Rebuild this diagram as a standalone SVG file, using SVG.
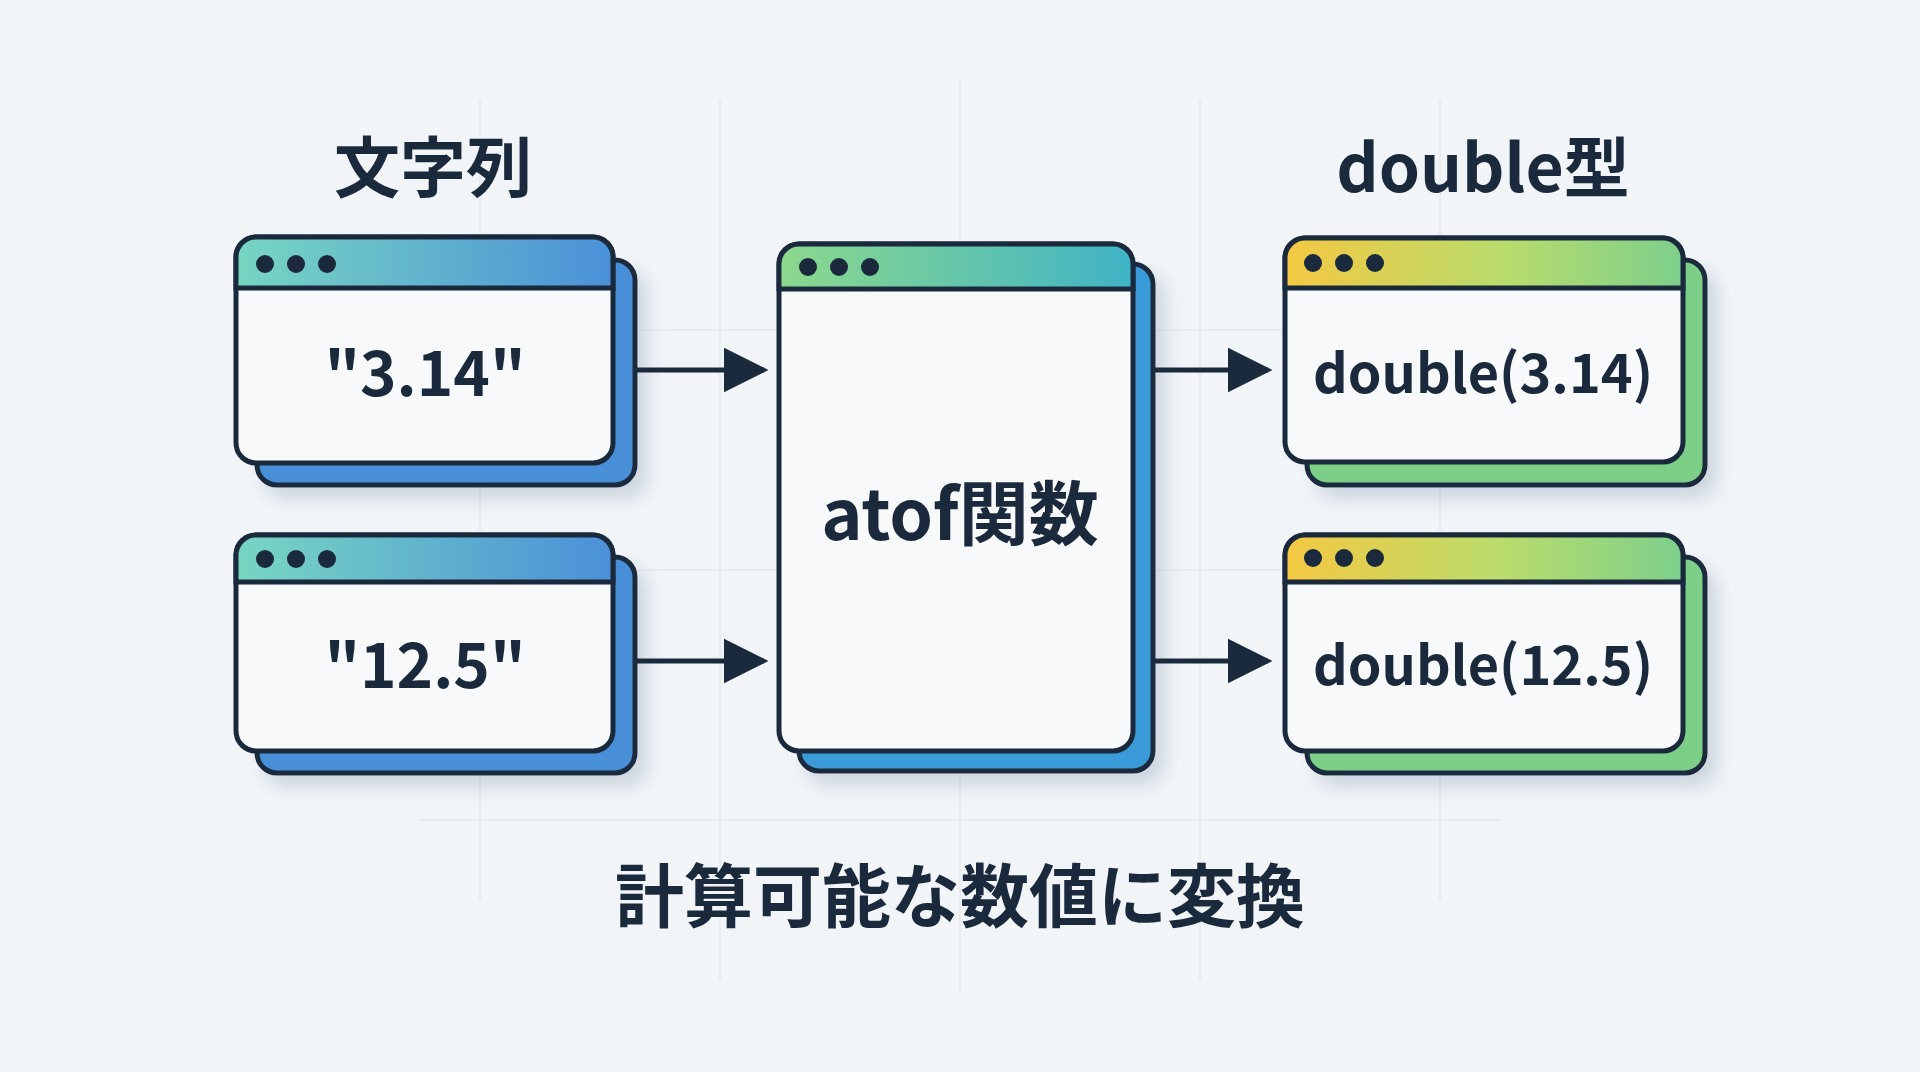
<svg xmlns="http://www.w3.org/2000/svg" width="1920" height="1072" viewBox="0 0 1920 1072">
<defs>
<linearGradient id="gBlue" x1="0" y1="0" x2="1" y2="0"><stop offset="0" stop-color="#78d6c2"/><stop offset="1" stop-color="#4a90d8"/></linearGradient>
<linearGradient id="gMid" x1="0" y1="0" x2="1" y2="0"><stop offset="0" stop-color="#8cd98c"/><stop offset="1" stop-color="#3fb3c6"/></linearGradient>
<linearGradient id="gGreen" x1="0" y1="0" x2="1" y2="0"><stop offset="0" stop-color="#f4c842"/><stop offset="0.55" stop-color="#b9dc6c"/><stop offset="1" stop-color="#7dcf8c"/></linearGradient>
<filter id="sh" x="-20%" y="-20%" width="150%" height="150%"><feDropShadow dx="10" dy="12" stdDeviation="9" flood-color="#8a9bb0" flood-opacity="0.35"/></filter>
<marker id="ah" viewBox="0 0 10 10" refX="9" refY="5" markerWidth="9" markerHeight="9" orient="auto" markerUnits="strokeWidth"><path d="M0,0 L10,5 L0,10 z" fill="#1a2a3c"/></marker>
</defs>
<style>
.ol{stroke:#1a2a3c;stroke-width:5;}
.body{fill:#f7f9fb;}
.dot{fill:#1a2a3c;}
.t{font-family:"Noto Sans CJK JP","Noto Sans",sans-serif;font-weight:700;fill:#1a2a3c;text-anchor:middle;}
.grid{stroke:#e0e6ec;stroke-width:1.5;}
.conn{stroke:#1a2a3c;stroke-width:5;fill:none;}
</style>
<rect width="1920" height="1072" fill="#f1f5f8"/>
<g id="grid" opacity="0.8">
<line class="grid" x1="480" y1="100" x2="480" y2="900"/>
<line class="grid" x1="720" y1="100" x2="720" y2="980"/>
<line class="grid" x1="960" y1="80" x2="960" y2="990"/>
<line class="grid" x1="1200" y1="100" x2="1200" y2="980"/>
<line class="grid" x1="1440" y1="100" x2="1440" y2="900"/>
<line class="grid" x1="420" y1="330" x2="1500" y2="330"/>
<line class="grid" x1="420" y1="570" x2="1500" y2="570"/>
<line class="grid" x1="420" y1="820" x2="1500" y2="820"/>
</g>
<text class="t" x="433" y="192" font-size="66">文字列</text>
<text class="t" x="1483" y="192" font-size="66">double型</text>
<g id="s1">
<rect class="ol" x="257" y="260" width="378" height="225" rx="20" fill="#4a8fd8" filter="url(#sh)"/>
<rect class="ol body" x="236" y="237" width="377" height="226" rx="20"/>
<path class="ol" d="M236,288 V257 a20,20 0 0 1 20,-20 H593 a20,20 0 0 1 20,20 V288 Z" fill="url(#gBlue)"/>
<circle class="dot" cx="265" cy="264" r="9"/><circle class="dot" cx="296" cy="264" r="9"/><circle class="dot" cx="327" cy="264" r="9"/>
<text class="t" x="425" y="396" font-size="62">"3.14"</text>
</g>
<g id="s2">
<rect class="ol" x="257" y="557" width="378" height="216" rx="20" fill="#4a8fd8" filter="url(#sh)"/>
<rect class="ol body" x="236" y="535" width="377" height="216" rx="20"/>
<path class="ol" d="M236,582 V555 a20,20 0 0 1 20,-20 H593 a20,20 0 0 1 20,20 V582 Z" fill="url(#gBlue)"/>
<circle class="dot" cx="265" cy="559" r="9"/><circle class="dot" cx="296" cy="559" r="9"/><circle class="dot" cx="327" cy="559" r="9"/>
<text class="t" x="425" y="688" font-size="62">"12.5"</text>
</g>
<g id="atof">
<rect class="ol" x="799" y="264" width="354" height="507" rx="20" fill="#3b9bd8" filter="url(#sh)"/>
<rect class="ol body" x="779" y="244" width="354" height="507" rx="20"/>
<path class="ol" d="M779,289 V264 a20,20 0 0 1 20,-20 H1113 a20,20 0 0 1 20,20 V289 Z" fill="url(#gMid)"/>
<circle class="dot" cx="808" cy="267" r="9"/><circle class="dot" cx="839" cy="267" r="9"/><circle class="dot" cx="870" cy="267" r="9"/>
<text class="t" x="960" y="540" font-size="70">atof関数</text>
</g>
<g id="d1">
<rect class="ol" x="1307" y="260" width="398" height="225" rx="20" fill="#7dcf88" filter="url(#sh)"/>
<rect class="ol body" x="1285" y="238" width="398" height="224" rx="20"/>
<path class="ol" d="M1285,288 V258 a20,20 0 0 1 20,-20 H1663 a20,20 0 0 1 20,20 V288 Z" fill="url(#gGreen)"/>
<circle class="dot" cx="1313" cy="263" r="9"/><circle class="dot" cx="1344" cy="263" r="9"/><circle class="dot" cx="1375" cy="263" r="9"/>
<text class="t" x="1483" y="393" font-size="54">double(3.14)</text>
</g>
<g id="d2">
<rect class="ol" x="1307" y="557" width="398" height="216" rx="20" fill="#7dcf88" filter="url(#sh)"/>
<rect class="ol body" x="1285" y="535" width="398" height="216" rx="20"/>
<path class="ol" d="M1285,582 V555 a20,20 0 0 1 20,-20 H1663 a20,20 0 0 1 20,20 V582 Z" fill="url(#gGreen)"/>
<circle class="dot" cx="1313" cy="558" r="9"/><circle class="dot" cx="1344" cy="558" r="9"/><circle class="dot" cx="1375" cy="558" r="9"/>
<text class="t" x="1483" y="685" font-size="54">double(12.5)</text>
</g>
<g id="connectors">
<line class="conn" x1="637" y1="370" x2="764" y2="370" marker-end="url(#ah)"/>
<line class="conn" x1="637" y1="661" x2="764" y2="661" marker-end="url(#ah)"/>
<line class="conn" x1="1155" y1="370" x2="1268" y2="370" marker-end="url(#ah)"/>
<line class="conn" x1="1155" y1="661" x2="1268" y2="661" marker-end="url(#ah)"/>
</g>
<text class="t" x="960" y="922" font-size="69">計算可能な数値に変換</text>
</svg>
